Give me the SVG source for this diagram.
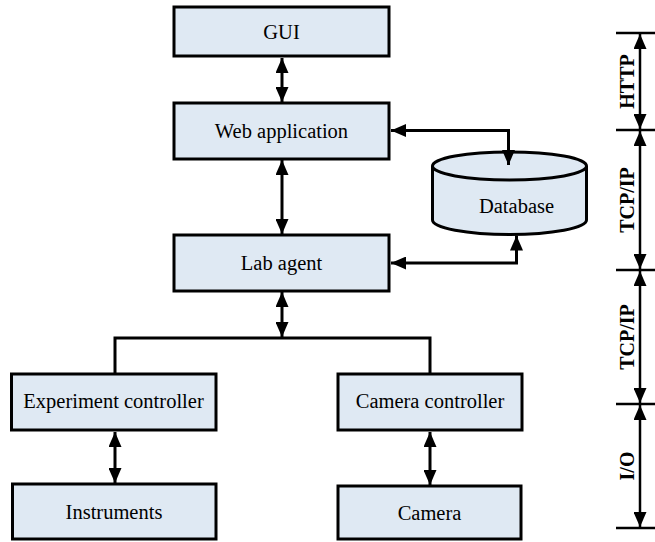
<svg xmlns="http://www.w3.org/2000/svg" width="655" height="542" viewBox="0 0 655 542">
  <defs>
    <style>
      .box { fill: #dfe9f3; stroke: #000; stroke-width: 3; }
      .lbl { font-family: "Liberation Serif", "DejaVu Serif", "Times New Roman", serif; font-size: 20.5px; fill: #000; text-anchor: middle; }
      .side { font-family: "Liberation Serif", "DejaVu Serif", "Times New Roman", serif; font-size: 20px; font-weight: bold; fill: #000; text-anchor: middle; }
      .wire { fill: none; stroke: #000; stroke-width: 3; }
      .arr { fill: none; stroke: #000; stroke-width: 3; marker-start: url(#head); marker-end: url(#head); }
      .tick { fill: none; stroke: #000; stroke-width: 2.5; }
      .dim { fill: none; stroke: #000; stroke-width: 2.5; marker-start: url(#head); marker-end: url(#head); }
    </style>
    <!-- solid triangular head, used at both ends of the two-way links -->
    <marker id="head" viewBox="0 0 15 13" refX="15" refY="6.5" markerUnits="userSpaceOnUse" markerWidth="15" markerHeight="13" orient="auto-start-reverse">
      <path d="M0,0 L15,6.5 L0,13 Z" fill="#000"/>
    </marker>
  </defs>

  <!-- nodes -->
  <g id="gui">
    <rect class="box" x="174" y="7" width="215" height="49"/>
    <text class="lbl" x="281.5" y="38.5">GUI</text>
  </g>
  <g id="web-application">
    <rect class="box" x="174" y="103" width="215" height="56"/>
    <text class="lbl" x="281.5" y="138">Web application</text>
  </g>
  <g id="lab-agent">
    <rect class="box" x="174" y="235" width="215" height="56"/>
    <text class="lbl" x="281.5" y="270">Lab agent</text>
  </g>
  <g id="database">
    <path class="box" d="M432.5,166 A77,14 0 0 1 586.5,166 L586.5,220 A77,14.5 0 0 1 432.5,220 Z"/>
    <path d="M432.5,166 A77,14 0 0 0 586.5,166" fill="none" stroke="#000" stroke-width="3"/>
    <text class="lbl" x="516.5" y="213">Database</text>
  </g>
  <g id="experiment-controller">
    <rect class="box" x="11.5" y="374" width="204.5" height="56"/>
    <text class="lbl" x="113.5" y="407.5">Experiment controller</text>
  </g>
  <g id="camera-controller">
    <rect class="box" x="338" y="374" width="184" height="56"/>
    <text class="lbl" x="430" y="407.5">Camera controller</text>
  </g>
  <g id="instruments">
    <rect class="box" x="12.5" y="484" width="203.5" height="55"/>
    <text class="lbl" x="114" y="518.5">Instruments</text>
  </g>
  <g id="camera">
    <rect class="box" x="338" y="486" width="183" height="53"/>
    <text class="lbl" x="429.5" y="519.5">Camera</text>
  </g>

  <!-- connectors -->
  <g id="connectors">
    <line class="arr" x1="282" y1="58" x2="282" y2="102"/>
    <line class="arr" x1="282" y1="160" x2="282" y2="234"/>
    <polyline class="arr" points="391,130.5 508.5,130.5 508.5,165"/>
    <polyline class="arr" points="391,263 516.5,263 516.5,235.5"/>
    <line class="arr" x1="282" y1="292" x2="282" y2="337"/>
    <polyline class="wire" points="115,374 115,338 430,338 430,374"/>
    <line class="arr" x1="115" y1="432" x2="115" y2="483"/>
    <line class="arr" x1="430" y1="432" x2="430" y2="485"/>
  </g>

  <!-- protocol scale -->
  <g id="protocol-scale">
    <line class="tick" x1="616" y1="33" x2="655" y2="33"/>
    <line class="tick" x1="616" y1="130" x2="655" y2="130"/>
    <line class="tick" x1="616" y1="270" x2="655" y2="270"/>
    <line class="tick" x1="616" y1="404" x2="655" y2="404"/>
    <line class="tick" x1="616" y1="528" x2="655" y2="528"/>
    <line class="dim" x1="640" y1="34" x2="640" y2="129"/>
    <line class="dim" x1="640" y1="131" x2="640" y2="269"/>
    <line class="dim" x1="640" y1="271" x2="640" y2="403"/>
    <line class="dim" x1="640" y1="405" x2="640" y2="527"/>
    <text class="side" transform="translate(634,81.5) rotate(-90)">HTTP</text>
    <text class="side" transform="translate(634,200) rotate(-90)">TCP/IP</text>
    <text class="side" transform="translate(634,337) rotate(-90)">TCP/IP</text>
    <text class="side" transform="translate(634,466) rotate(-90)">I/O</text>
  </g>
</svg>
